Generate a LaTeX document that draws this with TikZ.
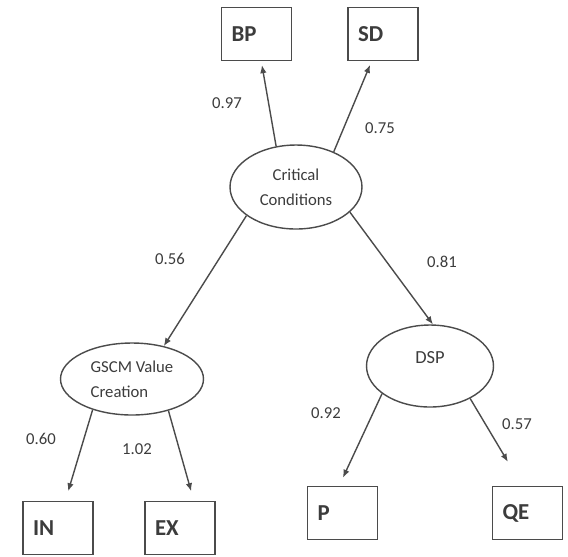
\documentclass[tikz,border=0pt]{standalone}
\usepackage{fontspec}
\setmainfont{Carlito}
\usepackage{tikz}
\usetikzlibrary{
  arrows.meta,
  shapes.geometric
}
\definecolor{inkgray}{RGB}{60,60,60}
\definecolor{linegray}{RGB}{75,75,75}

\begin{document}
\begin{tikzpicture}[x=0.02cm, y=-0.02cm,
  box/.style={draw=linegray, line width=0.8pt, minimum width=1.4cm, minimum height=1.06cm,
    inner xsep=0.2cm, text width=1.0cm, align=left, font=\fontsize{13}{15}\selectfont\bfseries, text=inkgray},
  latent/.style={draw=linegray, line width=0.8pt, ellipse, inner sep=0pt,
    font=\fontsize{9.5}{14}\selectfont, text=inkgray},
  load/.style={font=\fontsize{9.5}{11}\selectfont, text=inkgray},
  arr/.style={draw=linegray, line width=0.8pt, -{Latex[length=1.6mm, width=1.3mm]}}]
  \useasboundingbox (0,0) rectangle (568,556);
  % indicators
  \node[box] (bp) at (256.5,34) {BP};
  \node[box] (sd) at (383,34) {SD};
  \node[box] (in) at (58,528) {IN};
  \node[box] (ex) at (180,528) {EX};
  \node[box] (p) at (342.5,513) {P};
  \node[box] (qe) at (527.5,513) {QE};
  % latent constructs
  \node[latent, minimum width=2.64cm, minimum height=1.68cm, align=center] (crit) at (296,187) {Critical\\Conditions};
  \node[latent, minimum width=2.86cm, minimum height=1.44cm, align=left] (gscm) at (132,379) {GSCM Value\\Creation};
  \node[latent, minimum width=2.54cm, minimum height=1.64cm, text depth=0.34cm, font=\fontsize{10.5}{12}\selectfont] (dsp) at (430,366) {DSP};
  % paths
  \draw[arr, shorten >=0.8mm] (crit.116) -- (bp);
  \draw[arr, shorten >=0.8mm] (crit.43) -- (sd);
  \draw[arr] (crit.-150) -- (gscm.46);
  \draw[arr] (crit.-25) -- (dsp.86);
  \draw[arr, shorten >=2mm] (gscm.-142) -- (in.75);
  \draw[arr, shorten >=2mm] (gscm.-41) -- (ex.63);
  \draw[arr, shorten >=1.8mm] (dsp.-150) -- (p.97);
  \draw[arr, shorten >=5.6mm] (dsp.-39) -- (qe.101);
  % loadings
  \node[load] (l97) at (227,103) {0.97};
  \node[load] (l75) at (380,128) {0.75};
  \node[load] (l56) at (170,259) {0.56};
  \node[load] (l81) at (442,262) {0.81};
  \node[load] (l60) at (41,439) {0.60};
  \node[load] (l102) at (137,449) {1.02};
  \node[load] (l92) at (326,413) {0.92};
  \node[load] (l57) at (517,424) {0.57};
\end{tikzpicture}
\end{document}
